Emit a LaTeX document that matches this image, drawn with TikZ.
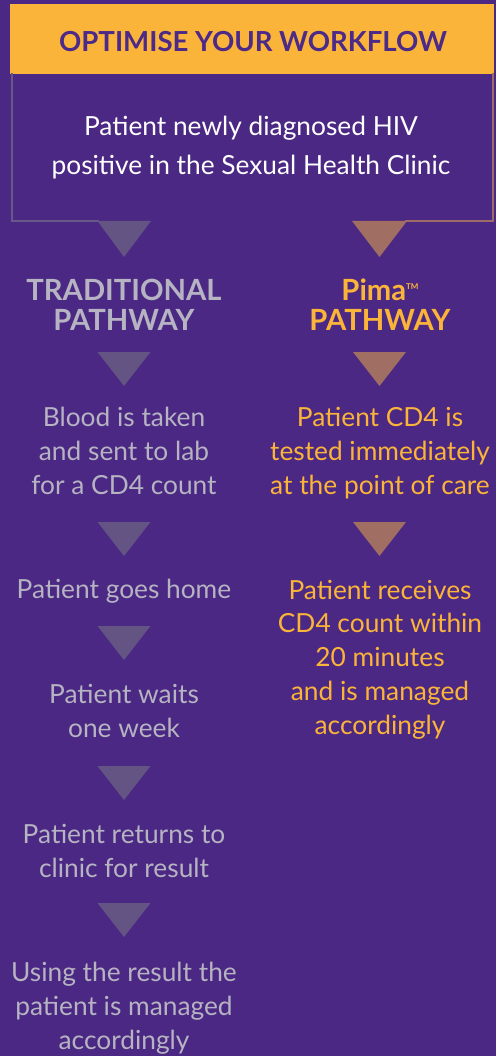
\documentclass[tikz,border=0pt]{standalone}
\usepackage{fontspec}
\setmainfont{Lato}
\usetikzlibrary{positioning}
\definecolor{bgPurple}{RGB}{75,40,131}
\definecolor{headerOrange}{RGB}{251,180,58}
\definecolor{titlePurple}{RGB}{76,42,136}
\definecolor{tradGray}{RGB}{182,179,194}
\definecolor{pimaOrange}{RGB}{251,180,58}
\definecolor{tradArrowColor}{RGB}{99,84,131}
\definecolor{pimaArrowColor}{RGB}{160,110,98}
\definecolor{tradBorder}{RGB}{104,88,138}
\definecolor{pimaBorder}{RGB}{158,106,104}
\tikzstyle{flowchart} = [x = 1pt, y = -1pt]
\tikzstyle{stepText} = [align=center, anchor=base, inner sep=0pt, font=\fontsize{26.3}{33.7}\selectfont]
\tikzstyle{tradText} = [stepText, color=tradGray]
\tikzstyle{pimaText} = [stepText, color=pimaOrange]
\tikzstyle{headText} = [align=center, anchor=base, inner sep=0pt, font=\fontsize{27.6}{30}\selectfont\bfseries]
\tikzstyle{pathText} = [headText, font=\fontsize{29.2}{30}\selectfont\bfseries]
\tikzstyle{borderLine} = [line width=2pt, line cap=rect]
\newcommand{\tradArrow}[1]{\fill [tradArrowColor] (97.5, #1) -- (150.5, #1) -- (124, #1 + 34) -- cycle;}
\newcommand{\pimaArrow}[1]{\fill [pimaArrowColor] (353, #1) -- (406, #1) -- (379.5, #1 + 34) -- cycle;}
\newcommand{\trademark}{{\fontsize{8}{8}\selectfont\raisebox{10pt}{TM}}}

\begin{document}
\begin{tikzpicture}[flowchart]
  \fill [bgPurple] (0,0) rectangle (496,1056);
  \useasboundingbox (0,0) rectangle (496,1056);

  \fill [headerOrange] (10,4) rectangle (494,74);
  \draw [borderLine, tradBorder] (11.5,74) -- (11.5,221.5) -- (98,221.5);
  \draw [borderLine, pimaBorder] (406,221.5) -- (492.5,221.5) -- (492.5,74);
  \node [headText, color=titlePurple] (title) at (253,52) {OPTIMISE YOUR WORKFLOW};
  \node [stepText, color=white, font=\fontsize{26.3}{39}\selectfont] (diagnosis) at (251,175) {Patient newly diagnosed HIV\\positive in the Sexual Health Clinic};

  \fill [tradArrowColor] (97.5,221) -- (151,221) -- (124,257) -- cycle;
  \fill [pimaArrowColor] (352,221) -- (407,221) -- (379.5,257) -- cycle;

  \node [pathText, color=tradGray] (tradHead) at (124,330) {TRADITIONAL\\PATHWAY};
  \node [pathText, color=pimaOrange] (pimaHead) at (380,330) {Pima\trademark\\PATHWAY};

  \tradArrow{352}
  \pimaArrow{352}
  \node [tradText] (bloodTaken) at (124,494) {Blood is taken\\and sent to lab\\for a CD4 count};
  \node [pimaText] (pointOfCare) at (380,494) {Patient CD4 is\\tested immediately\\at the point of care};

  \tradArrow{522}
  \pimaArrow{522}
  \node [tradText] (goesHome) at (124,598) {Patient goes home};
  \node [pimaText] (receivesCount) at (380,734) {Patient receives\\CD4 count within\\20 minutes\\and is managed\\accordingly};

  \tradArrow{626}
  \node [tradText] (waitsWeek) at (124,737) {Patient waits\\one week};

  \tradArrow{766}
  \node [tradText] (returnsClinic) at (124,877) {Patient returns to\\clinic for result};

  \tradArrow{903}
  \node [tradText] (usingResult) at (124,1049) {Using the result the\\patient is managed\\accordingly};
\end{tikzpicture}
\end{document}
